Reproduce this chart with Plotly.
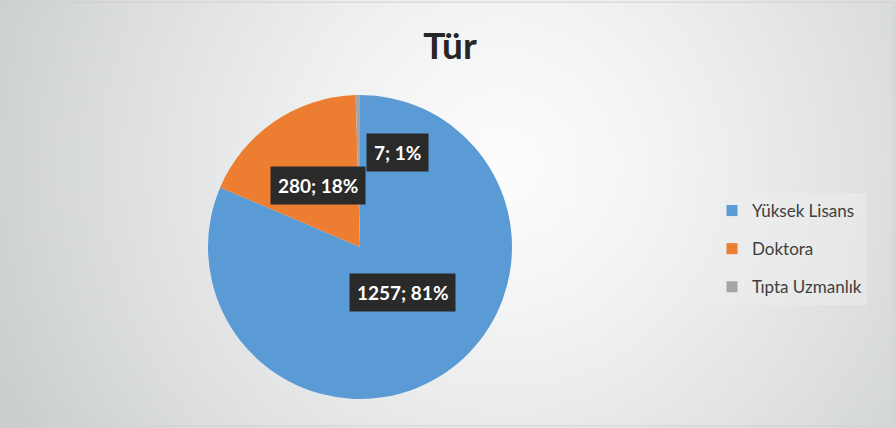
import base64
import math
import struct
import zlib

import plotly.graph_objects as go

# Data
labels = ["Yüksek Lisans", "Doktora", "Tıpta Uzmanlık"]
values = [1257, 280, 7]
percents = [81, 18, 1]
colors = ["#5B9BD5", "#ED7D31", "#A5A5A5"]

W, H = 895, 428
PIE_CX, PIE_CY, PIE_R = 360, 247, 152  # px
FONT = "Lato, Open Sans, sans-serif"


def gradient_png(w=180, h=86):
    """Soft radial grey background like the Excel chart area."""
    rows = []
    cx, cy = 0.56 * w, 0.38 * h
    for j in range(h):
        row = bytearray([0])
        for i in range(w):
            d = math.hypot((i - cx) / (0.62 * w), (j - cy) / (0.62 * w))
            d = min(d, 1.0)
            t = d ** 1.3
            r = round(252 - t * 50)
            g = round(252 - t * 47)
            b = round(252 - t * 46)
            row += bytes([r, g, b])
        rows.append(bytes(row))
    raw = b"".join(rows)

    def chunk(tag, data):
        c = struct.pack(">I", len(data)) + tag + data
        return c + struct.pack(">I", zlib.crc32(tag + data) & 0xFFFFFFFF)

    png = b"\x89PNG\r\n\x1a\n"
    png += chunk(b"IHDR", struct.pack(">IIBBBBB", w, h, 8, 2, 0, 0, 0))
    png += chunk(b"IDAT", zlib.compress(raw, 9))
    png += chunk(b"IEND", b"")
    return "data:image/png;base64," + base64.b64encode(png).decode()


fig = go.Figure(
    go.Pie(
        labels=labels,
        values=values,
        marker=dict(colors=colors, line=dict(width=0)),
        sort=False,
        direction="clockwise",
        rotation=0,
        textinfo="none",
        hoverinfo="label+value+percent",
        showlegend=False,
        domain=dict(
            x=[(PIE_CX - PIE_R) / W, (PIE_CX + PIE_R) / W],
            y=[1 - (PIE_CY + PIE_R) / H, 1 - (PIE_CY - PIE_R) / H],
        ),
    )
)

# legend entries (separate groups so the spacing can match Excel's)
for lab, col in zip(labels, colors):
    fig.add_trace(go.Scatter(
        x=[None], y=[None], mode="markers", name=lab, legendgroup=lab,
        marker=dict(symbol="square", size=11, color=col),
    ))

# Data labels in dark callout boxes, placed along each slice's mid angle
label_style = [(0.51, 0), (0.49, 0), (0.62, 39)]  # (radius fraction, x shift px)
total = sum(values)
cum = 0
for v, p, (rf, dx) in zip(values, percents, label_style):
    mid = (cum + v / 2) / total * 2 * math.pi
    cum += v
    px = PIE_CX + rf * PIE_R * math.sin(mid) + dx
    py = PIE_CY - rf * PIE_R * math.cos(mid)
    fig.add_annotation(
        x=px / W, y=1 - py / H, xref="paper", yref="paper",
        text=f"<b>{v}; {p}%</b>", showarrow=False,
        font=dict(family=FONT, size=19, color="white"),
        bgcolor="#2A2A2A", borderpad=7,
    )

fig.update_layout(
    width=W,
    height=H,
    margin=dict(l=0, r=0, t=0, b=0),
    paper_bgcolor="#E4E6E7",
    plot_bgcolor="rgba(0,0,0,0)",
    xaxis=dict(visible=False),
    yaxis=dict(visible=False),
    title=dict(
        text="<b>Tür</b>",
        x=450 / W, xanchor="center",
        y=1 - 46 / H, yanchor="middle",
        font=dict(family=FONT, size=37, color="#262626"),
    ),
    legend=dict(
        x=712 / W, y=1 - 193 / H, xanchor="left", yanchor="top",
        font=dict(family=FONT, size=17, color="#404040"),
        bgcolor="rgba(238,238,238,0.5)",
        tracegroupgap=13,
        itemwidth=30,
    ),
    images=[dict(
        source=gradient_png(), xref="paper", yref="paper",
        x=0, y=1, sizex=1, sizey=1, sizing="stretch",
        xanchor="left", yanchor="top", layer="below",
    )],
    shapes=[dict(
        type="rect", xref="paper", yref="paper", x0=0.002, y0=0.005, x1=0.998, y1=0.995,
        line=dict(color="#D0D0D0", width=1),
    )],
)

fig.write_html(
    "out.html",
    config={"displayModeBar": False},
    post_script="document.body.style.margin='0';",
)
